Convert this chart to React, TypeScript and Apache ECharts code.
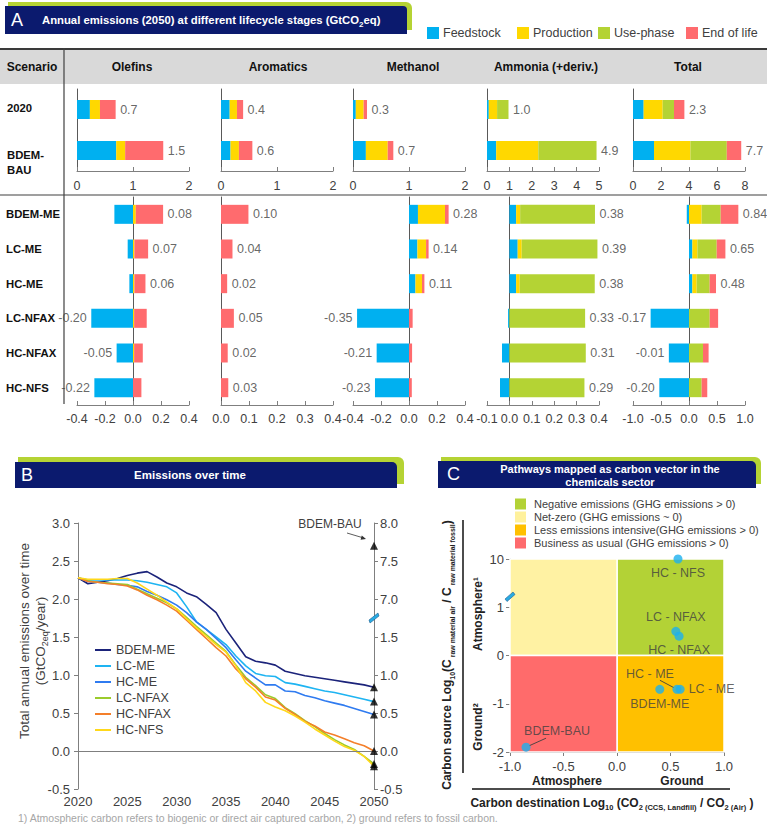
import React, { useEffect, useRef } from 'react';
import * as echarts from 'echarts';

// ---------------- DATA ----------------
const stageNames = ['Feedstock', 'Production', 'Use-phase', 'End of life'];
const productNames = ['Olefins', 'Aromatics', 'Methanol', 'Ammonia (+deriv.)', 'Total'];
const upperScenarios = ['2020', 'BDEM-BAU'];
const lowerScenarios = ['BDEM-ME', 'LC-ME', 'HC-ME', 'LC-NFAX', 'HC-NFAX', 'HC-NFS'];

// each: [feedstock[], production[], use-phase[], end of life[]] (GtCO2eq), one value per scenario row
const olefinsUpper = [[0.23, 0.70], [0.18, 0.16], [0, 0], [0.28, 0.68]];
const aromaticsUpper = [[0.155, 0.17], [0.13, 0.15], [0, 0], [0.11, 0.24]];
const methanolUpper = [[0.05, 0.23], [0.14, 0.39], [0, 0], [0.06, 0.10]];
const ammoniaUpper = [[0.08, 0.41], [0.37, 1.88], [0.51, 2.60], [0, 0]];
const totalUpper = [[0.76, 1.50], [1.36, 2.60], [0.81, 2.60], [0.74, 1.03]];

const olefinsUpperLabels = ['0.7', '1.5'];
const aromaticsUpperLabels = ['0.4', '0.6'];
const methanolUpperLabels = ['0.3', '0.7'];
const ammoniaUpperLabels = ['1.0', '4.9'];
const totalUpperLabels = ['2.3', '7.7'];

const olefinsLower = [
  [-0.133, -0.038, -0.026, -0.298, -0.117, -0.276],
  [0.02, 0.01, 0.01, 0.008, 0.008, 0],
  [0, 0, 0, 0, 0, 0],
  [0.195, 0.098, 0.079, 0.09, 0.062, 0.06],
];
const aromaticsLower = [
  [0, 0, 0, 0, 0, 0],
  [0, 0, 0, 0, 0, 0],
  [0, 0, 0, 0, 0, 0],
  [0.098, 0.041, 0.022, 0.046, 0.024, 0.026],
];
const methanolLower = [
  [0.064, 0.06, 0.046, -0.371, -0.231, -0.243],
  [0.193, 0.062, 0.047, 0, 0, 0],
  [0, 0, 0, 0, 0, 0],
  [0.026, 0.018, 0.017, 0.026, 0.022, 0.02],
];
const ammoniaLower = [
  [0.03, 0.037, 0.03, -0.006, -0.033, -0.042],
  [0.018, 0.018, 0.016, 0, 0, 0],
  [0.334, 0.338, 0.335, 0.338, 0.341, 0.335],
  [0, 0, 0, 0, 0, 0],
];
const totalLower = [
  [-0.04, 0.06, 0.06, -0.685, -0.36, -0.53],
  [0.226, 0.09, 0.077, 0, 0, 0],
  [0.34, 0.345, 0.232, 0.37, 0.25, 0.226],
  [0.315, 0.155, 0.113, 0.15, 0.10, 0.10],
];

const olefinsLowerLabels = ['0.08', '0.07', '0.06', '-0.20', '-0.05', '-0.22'];
const aromaticsLowerLabels = ['0.10', '0.04', '0.02', '0.05', '0.02', '0.03'];
const methanolLowerLabels = ['0.28', '0.14', '0.11', '-0.35', '-0.21', '-0.23'];
const ammoniaLowerLabels = ['0.38', '0.39', '0.38', '0.33', '0.31', '0.29'];
const totalLowerLabels = ['0.84', '0.65', '0.48', '-0.17', '-0.01', '-0.20'];

const upperAxisMax = [2, 2, 2, 5, 8];
const upperAxisInterval = [1, 1, 1, 1, 2];
const lowerAxisMin = [-0.4, 0, -0.4, -0.1, -1];
const lowerAxisMax = [0.4, 0.4, 0.4, 0.4, 1];
const lowerAxisInterval = [0.2, 0.1, 0.2, 0.1, 0.5];

// Panel B
const years = [2020, 2021, 2022, 2023, 2024, 2025, 2026, 2027, 2028, 2029, 2030, 2031, 2032, 2033, 2034, 2035, 2036, 2037, 2038, 2039, 2040, 2041, 2042, 2043, 2044, 2045, 2046, 2047, 2048, 2049, 2050];
const lineNames = ['BDEM-ME', 'LC-ME', 'HC-ME', 'LC-NFAX', 'HC-NFAX', 'HC-NFS'];
const bdemMe = [2.28, 2.20, 2.22, 2.24, 2.27, 2.31, 2.34, 2.36, 2.29, 2.21, 2.16, 2.08, 2.03, 1.93, 1.82, 1.60, 1.42, 1.24, 1.18, 1.16, 1.13, 1.05, 1.02, 0.99, 0.97, 0.95, 0.93, 0.91, 0.89, 0.87, 0.84];
const lcMe = [2.28, 2.25, 2.25, 2.25, 2.25, 2.25, 2.24, 2.22, 2.19, 2.16, 2.08, 1.90, 1.70, 1.60, 1.50, 1.40, 1.25, 1.12, 1.02, 0.99, 0.98, 0.90, 0.88, 0.85, 0.82, 0.79, 0.77, 0.74, 0.71, 0.68, 0.65];
const hcMe = [2.28, 2.23, 2.22, 2.21, 2.19, 2.18, 2.16, 2.10, 2.05, 1.99, 1.92, 1.82, 1.70, 1.60, 1.48, 1.36, 1.20, 1.05, 0.96, 0.87, 0.87, 0.79, 0.78, 0.73, 0.70, 0.66, 0.63, 0.60, 0.56, 0.52, 0.48];
const lcNfax = [2.28, 2.24, 2.22, 2.21, 2.20, 2.19, 2.13, 2.07, 2.01, 1.95, 1.87, 1.76, 1.64, 1.53, 1.42, 1.31, 1.13, 0.97, 0.86, 0.74, 0.69, 0.57, 0.49, 0.40, 0.32, 0.23, 0.15, 0.08, 0.02, -0.07, -0.17];
const hcNfax = [2.28, 2.23, 2.22, 2.20, 2.19, 2.17, 2.12, 2.05, 1.99, 1.92, 1.84, 1.72, 1.60, 1.48, 1.36, 1.25, 1.08, 0.95, 0.84, 0.71, 0.67, 0.56, 0.48, 0.39, 0.33, 0.25, 0.21, 0.16, 0.11, 0.07, 0.00];
const hcNfs = [2.28, 2.26, 2.26, 2.26, 2.27, 2.27, 2.21, 2.13, 2.05, 1.96, 1.87, 1.74, 1.62, 1.51, 1.40, 1.30, 1.12, 0.90, 0.79, 0.64, 0.58, 0.53, 0.46, 0.38, 0.29, 0.21, 0.13, 0.06, 0.01, -0.07, -0.20];
const bauEmission2050 = 7.7; // read on the broken right axis
const rightAxisBreakShift = 5; // right-axis labels above the break read 5 more than the left axis
const rightTickLabels = ['-0.5', '0.0', '0.5', '1.0', '1.5', '7.0', '7.5', '8.0'];

// Panel C
const pathwayNames = ['HC - NFS', 'LC - NFAX', 'HC - NFAX', 'HC - ME', 'LC - ME', 'BDEM-ME', 'BDEM-BAU'];
const carbonDestination = [0.57, 0.55, 0.58, 0.56, 0.59, 0.40, -0.85];
const carbonSource = [10, 0.5, 0.4, -0.7, -0.7, -0.7, -1.9];
const carbonSourceTicks = ['-2', '-1', '0', '1', '10'];
const quadrantNames = ['Negative emissions (GHG emissions > 0)', 'Net-zero (GHG emissions ~ 0)', 'Less emissions intensive(GHG emissions > 0)', 'Business as usual (GHG emissions > 0)'];

// ---------------- STYLE ----------------
const FONT = '"Liberation Sans", Arial, sans-serif';
const TXT = '#404040';
const NAVY = '#0b1a6e';
const GREEN = '#b5d334';
const stageColors = ['#00b0f0', '#ffd800', '#b4d334', '#ff6b6e'];
const lineColors = ['#1b237a', '#1eb4f2', '#2f7bf0', '#9bcb2c', '#f47f2a', '#ffd81a'];
const quadColors = ['#b3d236', '#fff2a3', '#ffc000', '#ff6b6b'];

const colLeft = [77, 221, 353, 487, 633];
const colW = 112;

// label offsets (px) of the two pathways whose labels sit away from their dot, with a leader line
const movedLabels: any = { 3: { dx: -27, dy: -15, lx: -17, ly: -9 }, 6: { dx: 31, dy: -16, lx: 20, ly: -9 } };

function txt(x: number, y: number, text: string, o: any = {}) {
  return {
    type: 'text', x, y, silent: true, rotation: o.rot || 0, z: 10,
    style: {
      text, fill: o.fill || TXT, fontSize: o.size || 12, fontWeight: o.weight || 'normal', fontFamily: FONT,
      align: o.align || 'left', textAlign: o.align || 'left', verticalAlign: 'middle', textVerticalAlign: 'middle',
      rich: o.rich,
    },
  };
}
function richSet(size: number, subSize: number, color: string, weight: string) {
  return {
    b: { fontSize: size, fontWeight: weight, fontFamily: FONT, fill: color, color, lineHeight: size + 5, verticalAlign: 'middle' },
    s: { fontSize: subSize, fontWeight: weight, fontFamily: FONT, fill: color, color, lineHeight: subSize + 2, verticalAlign: 'bottom' },
  };
}

function srcPos(v: number) {
  return v > 1 ? 2 : v; // broken axis: 10 sits in the slot after 1
}

function buildOption() {
  const grid: any[] = [];
  const xAxis: any[] = [];
  const yAxis: any[] = [];
  const series: any[] = [];
  const lbl = { color: TXT, fontSize: 12, fontFamily: FONT };
  const axisColor = '#7f7f7f';

  const upperData = [olefinsUpper, aromaticsUpper, methanolUpper, ammoniaUpper, totalUpper];
  const upperLabels = [olefinsUpperLabels, aromaticsUpperLabels, methanolUpperLabels, ammoniaUpperLabels, totalUpperLabels];
  const lowerData = [olefinsLower, aromaticsLower, methanolLower, ammoniaLower, totalLower];
  const lowerLabels = [olefinsLowerLabels, aromaticsLowerLabels, methanolLowerLabels, ammoniaLowerLabels, totalLowerLabels];

  const addBarGrid = (g: number, left: number, top: number, height: number, cats: string[], data: number[][], labels: string[], min: number, max: number, interval: number, fmt: (v: number) => string, margin: number) => {
    grid.push({ left, top, width: colW, height, outerBoundsMode: 'none' });
    xAxis.push({
      type: 'value', gridIndex: g, min, max, interval,
      axisLine: { show: true, onZero: false, lineStyle: { color: axisColor } },
      axisTick: { show: true, inside: true, length: 4, lineStyle: { color: axisColor } },
      axisLabel: { ...lbl, fontSize: 12.5, margin, formatter: fmt, showMinLabel: true, showMaxLabel: true },
      splitLine: { show: false },
    });
    yAxis.push({
      type: 'category', gridIndex: g, data: cats, inverse: true,
      axisLine: { show: true, onZero: true, lineStyle: { color: '#595959' } },
      axisTick: { show: false }, axisLabel: { show: false }, splitLine: { show: false },
    });
    for (let s = 0; s < 4; s++) {
      series.push({
        type: 'bar', name: stageNames[s], xAxisIndex: g, yAxisIndex: g, stack: 'st' + g, barWidth: 19,
        data: data[s], itemStyle: { color: stageColors[s] }, silent: true,
      });
    }
    const pts = cats.map((_, r) => {
      let pos = 0, neg = 0;
      for (let s = 0; s < 4; s++) { const v = data[s][r]; if (v >= 0) pos += v; else neg += v; }
      const net = pos + neg;
      return { value: [net >= 0 ? pos : neg, r], label: { position: net >= 0 ? 'right' : 'left' } };
    });
    series.push({
      type: 'scatter', xAxisIndex: g, yAxisIndex: g, symbolSize: 1, itemStyle: { color: 'rgba(0,0,0,0)' }, silent: true,
      data: pts,
      label: { show: true, distance: 4, ...lbl, fontSize: 12.5, formatter: (p: any) => labels[p.dataIndex] },
    });
  };

  const fmtInt = (v: number) => String(Math.round(v));
  const fmt1 = (v: number) => (Math.abs(v) < 1e-9 ? '0.0' : v.toFixed(1));
  for (let i = 0; i < 5; i++) {
    addBarGrid(i, colLeft[i], 89, 82, upperScenarios, upperData[i], upperLabels[i], 0, upperAxisMax[i], upperAxisInterval[i], fmtInt, 8);
  }
  for (let i = 0; i < 5; i++) {
    addBarGrid(5 + i, colLeft[i], 197, 208, lowerScenarios, lowerData[i], lowerLabels[i], lowerAxisMin[i], lowerAxisMax[i], lowerAxisInterval[i], fmt1, 7);
  }

  // ---------- Panel B (grid 10) ----------
  grid.push({ left: 78, top: 523, width: 296, height: 266, outerBoundsMode: 'none' });
  xAxis.push({
    type: 'value', gridIndex: 10, min: 2020, max: 2050, interval: 5,
    axisLine: { show: false, onZero: false }, axisTick: { show: false },
    axisLabel: { ...lbl, fontSize: 13, margin: 6, formatter: (v: number) => String(v), showMinLabel: true, showMaxLabel: true },
    splitLine: { show: false },
  });
  const yB = {
    type: 'value', gridIndex: 10, min: -0.5, max: 3.0, interval: 0.5,
    axisLine: { show: true, onZero: false, lineStyle: { color: axisColor } },
    axisTick: { show: true, length: 4, lineStyle: { color: axisColor } },
    splitLine: { show: false },
  };
  yAxis.push({ ...yB, position: 'left', axisLabel: { ...lbl, fontSize: 13, margin: 8, formatter: fmt1 } });
  yAxis.push({
    ...yB, position: 'right',
    axisLabel: { ...lbl, fontSize: 13, margin: 6, formatter: (v: number) => rightTickLabels[Math.round((v + 0.5) / 0.5)] },
  });
  const lineData = [bdemMe, lcMe, hcMe, lcNfax, hcNfax, hcNfs];
  lineData.forEach((vals, k) => {
    series.push({
      type: 'line', name: lineNames[k], xAxisIndex: 10, yAxisIndex: 10, showSymbol: false, symbol: 'none',
      data: years.map((y, j) => [y, vals[j]]), lineStyle: { color: lineColors[k], width: 1.6 },
      itemStyle: { color: lineColors[k] }, silent: true, z: 3,
      markLine: k === 0 ? {
        silent: true, symbol: 'none', label: { show: false },
        lineStyle: { color: axisColor, width: 1, type: 'solid' }, data: [{ yAxis: 0 }],
      } : undefined,
    });
  });
  const endVals = lineData.map((v) => v[v.length - 1]);
  series.push({
    type: 'scatter', xAxisIndex: 10, yAxisIndex: 10, symbol: 'triangle', symbolSize: 8, silent: true, z: 5,
    itemStyle: { color: '#000' },
    data: [...endVals.map((v) => [2050, v]), [2050, bauEmission2050 - rightAxisBreakShift]],
  });

  // ---------- Panel C (grid 11) ----------
  grid.push({ left: 510, top: 559, width: 214, height: 193, outerBoundsMode: 'none' });
  xAxis.push({
    type: 'value', gridIndex: 11, min: -1, max: 1, interval: 0.5,
    axisLine: { show: true, onZero: false, lineStyle: { color: axisColor } },
    axisTick: { show: true, length: 4, lineStyle: { color: axisColor } },
    axisLabel: { ...lbl, fontSize: 13, margin: 8, formatter: fmt1, showMinLabel: true, showMaxLabel: true },
    splitLine: { show: false },
  });
  yAxis.push({
    type: 'value', gridIndex: 11, min: -2, max: 2, interval: 1,
    axisLine: { show: true, onZero: false, lineStyle: { color: axisColor } },
    axisTick: { show: true, length: 4, lineStyle: { color: axisColor } },
    axisLabel: { ...lbl, fontSize: 13, margin: 6, formatter: (v: number) => carbonSourceTicks[Math.round(v + 2)] },
    splitLine: { show: false },
  });
  const labelPos: any[] = [
    { position: 'bottom', distance: 3 },
    { position: 'top', distance: 3 },
    { position: 'bottom', distance: 3 },
    { position: 'inside' },
    { position: 'right', distance: 4, offset: [0, -6] },
    { position: 'bottom', distance: 4 },
    { position: 'inside' },
  ];
  const area = (x0: number, y0: number, x1: number, y1: number, c: string) => [
    { xAxis: x0, yAxis: y0, itemStyle: { color: c, borderColor: '#fff', borderWidth: 1.5 } },
    { xAxis: x1, yAxis: y1 },
  ];
  series.push({
    type: 'scatter', xAxisIndex: 11, yAxisIndex: 12, symbolSize: 9, silent: true, z: 5,
    itemStyle: { color: '#1cb0ef' },
    data: pathwayNames.map((n, i) => ({
      name: n, value: [carbonDestination[i], srcPos(carbonSource[i])],
      label: labelPos[i],
    })),
    label: { show: true, ...lbl, fontSize: 12.5, formatter: (p: any) => p.name },
    labelLayout: (p: any) => (movedLabels[p.dataIndex] ? { dx: movedLabels[p.dataIndex].dx, dy: movedLabels[p.dataIndex].dy } : {}),
    markArea: {
      silent: true,
      data: [
        area(0, 0, 1, 2, quadColors[0]),
        area(-1, 0, 0, 2, quadColors[1]),
        area(0, -2, 1, 0, quadColors[2]),
        area(-1, -2, 0, 0, quadColors[3]),
      ],
    },
  });

  // ---------- graphics ----------
  const g: any[] = [];
  const rect = (x: number, y: number, w: number, h: number, fill: string, r: any = 0) =>
    ({ type: 'rect', silent: true, z: 1, shape: { x, y, width: w, height: h, r }, style: { fill } });
  const line = (x1: number, y1: number, x2: number, y2: number, stroke: string, w: number) =>
    ({ type: 'line', silent: true, z: 2, shape: { x1, y1, x2, y2 }, style: { stroke, lineWidth: w } });

  // Panel A header
  g.push(rect(8, 2, 404, 28, GREEN, [0, 6, 0, 0]));
  g.push(rect(5, 6, 402, 28, NAVY, [0, 4, 0, 0]));
  g.push(txt(11, 20, 'A', { fill: '#fff', size: 18 }));
  g.push(txt(42, 20, '{b|Annual emissions (2050) at different lifecycle stages (GtCO}{s|2}{b|eq)}', { rich: richSet(11.3, 8, '#fff', 'bold') }));
  const legX = [427, 517, 598, 686];
  stageNames.forEach((n, i) => {
    g.push(rect(legX[i], 27, 12, 12, stageColors[i]));
    g.push(txt(legX[i] + 16, 33, n, { size: 12.5 }));
  });
  g.push(rect(0, 50, 767, 34, '#d9d9d9'));
  g.push(line(0, 49, 767, 49, '#3a3a3a', 2));
  g.push(txt(32, 67, 'Scenario', { weight: 'bold', size: 12, fill: '#111', align: 'center' }));
  const headX = [132, 278, 413, 546, 688];
  productNames.forEach((n, i) => g.push(txt(headX[i], 67, n, { weight: 'bold', size: 12, fill: '#111', align: 'center' })));
  g.push(line(64, 48, 64, 404, '#404040', 1.2));
  g.push(line(0, 195, 767, 195, '#404040', 1.2));
  const scenSize = 11.3;
  g.push(txt(7, 108, '2020', { weight: 'bold', size: scenSize, fill: '#111' }));
  g.push(txt(7, 155, 'BDEM-', { weight: 'bold', size: scenSize, fill: '#111' }));
  g.push(txt(7, 170, 'BAU', { weight: 'bold', size: scenSize, fill: '#111' }));
  lowerScenarios.forEach((n, i) => g.push(txt(6, 197 + (208 / 6) * (i + 0.5), n, { weight: 'bold', size: scenSize, fill: '#111' })));

  // Panel B header
  g.push(rect(18, 457, 386, 27, GREEN, [0, 6, 0, 0]));
  g.push(rect(15, 462, 382, 26, NAVY, [0, 5, 0, 0]));
  g.push(txt(21, 475, 'B', { fill: '#fff', size: 18 }));
  g.push(txt(190, 475, 'Emissions over time', { fill: '#fff', size: 11.5, weight: 'bold', align: 'center' }));
  // Panel B axis titles
  g.push(txt(24, 641, 'Total annual emissions over time', { size: 13.5, rot: Math.PI / 2, align: 'center' }));
  g.push(txt(40, 641, '{b|(GtCO}{s|2eq}{b|/year)}', { rot: Math.PI / 2, align: 'center', rich: richSet(13.5, 9, TXT, 'normal') }));
  // BAU annotation
  g.push(txt(330, 524, 'BDEM-BAU', { size: 12, align: 'center' }));
  g.push(line(347, 533, 362, 537.5, '#333', 0.8));
  g.push({ type: 'polygon', silent: true, z: 3, shape: { points: [[366, 539], [360.6, 539.7], [361.8, 535.5]] }, style: { fill: '#333' } });
  // axis break B
  g.push({ type: 'polygon', silent: true, z: 12, shape: { points: [[369, 620], [378, 613], [379, 616], [370, 623]] }, style: { fill: '#29abe2', stroke: '#1b5c8f', lineWidth: 0.6 } });

  // Panel C header
  g.push(rect(441, 457, 320, 27, GREEN, [0, 6, 0, 0]));
  g.push(rect(438, 461, 318, 27, NAVY, [0, 5, 0, 0]));
  g.push(txt(447, 474, 'C', { fill: '#fff', size: 18 }));
  g.push(txt(610, 469, 'Pathways mapped as carbon vector in the', { fill: '#fff', size: 11, weight: 'bold', align: 'center' }));
  g.push(txt(610, 482, 'chemicals sector', { fill: '#fff', size: 11, weight: 'bold', align: 'center' }));
  const cLegColors = [quadColors[0], '#fff19c', quadColors[2], '#fe6b6d'];
  quadrantNames.forEach((n, i) => {
    const y = 504 + i * 13;
    g.push(rect(515, y - 5.5, 11, 11, cLegColors[i]));
    g.push(txt(534, y, n, { size: 11 }));
  });
  g.push(txt(478, 614, 'Atmosphere¹', { size: 12, weight: 'bold', fill: '#222', rot: Math.PI / 2, align: 'center' }));
  g.push(txt(478, 727, 'Ground²', { size: 12, weight: 'bold', fill: '#222', rot: Math.PI / 2, align: 'center' }));
  g.push(txt(567, 781, 'Atmosphere', { size: 12, weight: 'bold', fill: '#222', align: 'center' }));
  g.push(txt(682, 781, 'Ground', { size: 12, weight: 'bold', fill: '#222', align: 'center' }));
  g.push(line(463, 520, 463, 773, '#111', 1.5));
  g.push(line(472, 789, 730, 789, '#111', 1.5));
  g.push(txt(447, 655, '{b|Carbon source Log}{s|10}{b|(C}{s| raw material air}{b| / C}{s| raw material fossil}{b|)}', {
    rot: Math.PI / 2, align: 'center', rich: richSet(12, 7, '#222', 'bold'),
  }));
  g.push(txt(612, 803, '{b|Carbon destination Log}{s|10}{b| (CO}{s|2 (CCS, Landfill)}{b| / CO}{s|2 (Air)}{b| )}', {
    align: 'center', rich: richSet(12, 7.5, '#222', 'bold'),
  }));
  g.push({ type: 'polygon', silent: true, z: 12, shape: { points: [[505, 599], [513, 592], [515, 594.5], [507, 601.5]] }, style: { fill: '#29abe2', stroke: '#1b5c8f', lineWidth: 0.6 } });

  // footnote
  g.push(txt(18, 818, '1) Atmospheric carbon refers to biogenic or direct air captured carbon, 2) ground refers to fossil carbon.', { size: 10.5, fill: '#a6a6a6' }));

  return {
    animation: false,
    backgroundColor: '#ffffff',
    textStyle: { fontFamily: FONT },
    grid, xAxis, yAxis, series,
    legend: [{
      data: lineNames, orient: 'vertical', left: 95, top: 643, itemWidth: 16, itemHeight: 2, itemGap: 2,
      icon: 'rect', selectedMode: false, padding: 0,
      textStyle: { fontSize: 12.5, color: TXT, fontFamily: FONT, lineHeight: 14 },
    }],
    graphic: { elements: g },
  };
}

export default function App() {
  const ref = useRef<HTMLDivElement>(null);
  useEffect(() => {
    document.body.style.margin = '0';
    const chart = echarts.init(ref.current as HTMLDivElement, undefined, { renderer: 'svg', width: 767, height: 826 });
    const option: any = buildOption();
    chart.setOption(option);
    // leader lines for the moved labels, placed through the chart's own scale
    Object.keys(movedLabels).forEach((k) => {
      const i = Number(k);
      const p = chart.convertToPixel({ xAxisIndex: 11, yAxisIndex: 12 } as any, [carbonDestination[i], srcPos(carbonSource[i])]) as any;
      if (!p) return;
      const m = movedLabels[i];
      const len = Math.hypot(m.lx, m.ly);
      option.graphic.elements.push({
        type: 'line', silent: true, z: 20,
        shape: { x1: p[0] + m.lx, y1: p[1] + m.ly, x2: p[0] + (m.lx / len) * 4, y2: p[1] + (m.ly / len) * 4 },
        style: { stroke: '#404040', lineWidth: 0.9 },
      });
    });
    chart.setOption(option, true);
    return () => chart.dispose();
  }, []);
  return <div ref={ref} style={{ position: 'absolute', left: 0, top: 0, width: 767, height: 826, background: '#fff' }} />;
}
